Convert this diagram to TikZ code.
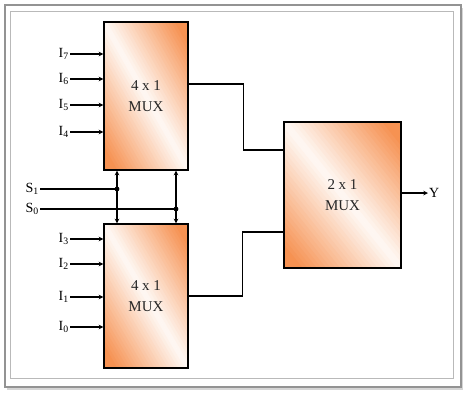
\documentclass[tikz,border=0pt]{standalone}
\usepackage{fontspec}
\setmainfont{Liberation Serif}
\usepackage{tikz}
\usetikzlibrary{arrows.meta, positioning, calc, shadows}

\definecolor{muxorange}{RGB}{246,146,82}

\begin{document}
\begin{tikzpicture}[
  x=1pt, y=-1pt,
  >=stealth,
  wire/.style={draw, line width=1.1pt},
  gradfill/.style={path picture={
    \coordinate (tl) at (path picture bounding box.north west);
    \coordinate (tr) at (path picture bounding box.north east);
    \coordinate (bl) at (path picture bounding box.south west);
    \coordinate (br) at (path picture bounding box.south east);
    \foreach \s in {0,0.04,...,0.97} {
      \pgfmathtruncatemacro\pct{min(100,8+110*\s)}
      \fill[muxorange!\pct!white] ($(tl)!\s!(tr)$) -- (tr) -- ($(br)!\s!(tr)$) -- cycle;
      \fill[muxorange!\pct!white] ($(tl)!\s!(bl)$) -- (bl) -- ($(br)!\s!(bl)$) -- cycle;
    }
  }},
  muxbox/.style={draw, line width=1.2pt, gradfill, align=center,
    font=\fontsize{15}{21}\selectfont, text=black!85},
  inlabel/.style={anchor=east, inner sep=1pt, font=\fontsize{14}{16}\selectfont}
  ]
  \useasboundingbox (0,0) rectangle (474,400);
  % frame
  \draw[gray!85, line width=1.8pt, fill=white,
    drop shadow={shadow xshift=2pt, shadow yshift=-3pt, fill=gray!55, opacity=0.6}] (5,5) rectangle (461,387);
  \draw[gray!55, line width=0.8pt] (10,11) rectangle (453,378);

  % multiplexers
  \node[muxbox, minimum width=84, minimum height=148] (muxA) at (146,96) {4 x 1\\MUX};
  \node[muxbox, minimum width=84, minimum height=144] (muxB) at (146,296) {4 x 1\\MUX};
  \node[muxbox, minimum width=117, minimum height=146] (muxC) at (342.5,195) {2 x 1\\MUX};

  % inputs of the upper mux
  \node[inlabel] (i7) at (70,54)  {I\textsubscript{7}};
  \node[inlabel] (i6) at (70,79)  {I\textsubscript{6}};
  \node[inlabel] (i5) at (70,105) {I\textsubscript{5}};
  \node[inlabel] (i4) at (70,132) {I\textsubscript{4}};
  \foreach \n in {i7,i6,i5,i4}
    \draw[wire,->] (\n) -- (\n -| muxA.west);

  % inputs of the lower mux
  \node[inlabel] (i3) at (70,239) {I\textsubscript{3}};
  \node[inlabel] (i2) at (70,264) {I\textsubscript{2}};
  \node[inlabel] (i1) at (70,297) {I\textsubscript{1}};
  \node[inlabel] (i0) at (70,327) {I\textsubscript{0}};
  \foreach \n in {i3,i2,i1,i0}
    \draw[wire,->] (\n) -- (\n -| muxB.west);

  % select lines
  \node[inlabel] (s1) at (40,189) {S\textsubscript{1}};
  \node[inlabel] (s0) at (40,209) {S\textsubscript{0}};
  \coordinate (j1) at (117,189);
  \coordinate (j0) at (176,209);
  \draw[wire] (s1) -- (j1);
  \draw[wire] (s0) -- (j0);
  \fill (j1) circle (2.4);
  \fill (j0) circle (2.4);
  \draw[wire,<->] (muxA.south -| j1) -- (muxB.north -| j1);
  \draw[wire,<->] (muxA.south -| j0) -- (muxB.north -| j0);

  % outputs
  \draw[wire] ([yshift=12pt]muxA.east) -- ++(55,0) |- ([yshift=45pt]muxC.west);
  \draw[wire] (muxB.east) -- ++(54,0) |- ([yshift=-37pt]muxC.west);
  \node[anchor=west, inner sep=1pt, font=\fontsize{14}{16}\selectfont] (y) at (428,193) {Y};
  \draw[wire,->] (muxC.east |- y) -- (y);
\end{tikzpicture}
\end{document}
